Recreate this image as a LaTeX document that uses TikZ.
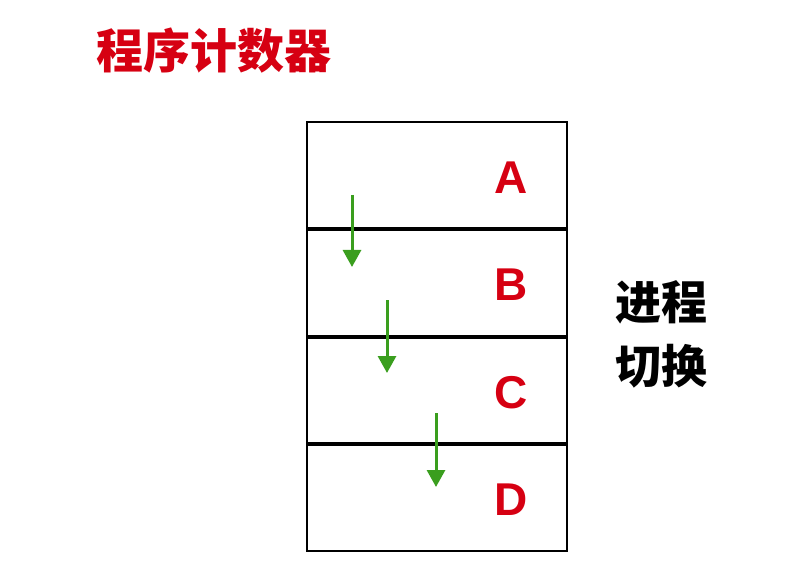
\documentclass[tikz,border=0pt]{standalone}
\usepackage{fontspec}
\usetikzlibrary{arrows.meta}
\setmainfont{Liberation Sans}
\newfontfamily\cjk{Noto Sans CJK SC}
\definecolor{pcred}{RGB}{214,0,18}
\definecolor{pcgreen}{RGB}{58,158,30}
\begin{document}
\begin{tikzpicture}[x=1pt,y=-1pt,
  letter/.style={text=pcred,font=\fontsize{46}{46}\selectfont\bfseries},
  hop/.style={->,>={Triangle[width=18pt,length=17pt]},draw=pcgreen,line width=3pt}]
\useasboundingbox (0,0) rectangle (798,580);

\node[anchor=west,text=pcred,font=\cjk\fontsize{47}{47}\selectfont\bfseries] (title) at (93,51) {程序计数器};

% the stack of frames
\draw[line width=1.6pt] (307,122) rectangle (567,551);
\foreach \y in {229,337,444}
  \draw[line width=3.5pt] (307,\y) -- (567,\y);

\node[letter] (A) at (511,178) {A};
\node[letter] (B) at (511,285) {B};
\node[letter] (C) at (511,393) {C};
\node[letter] (D) at (511,500) {D};

\coordinate (s1) at (352,195); \coordinate (e1) at (352,267);
\coordinate (s2) at (387,300); \coordinate (e2) at (387,373);
\coordinate (s3) at (436,413); \coordinate (e3) at (436,487);
\draw[hop] (s1) -- (e1);
\draw[hop] (s2) -- (e2);
\draw[hop] (s3) -- (e3);

\node[font=\cjk\fontsize{46}{46}\selectfont\bfseries,align=center] (switch) at (661,334) {进程\\[18pt]切换};
\end{tikzpicture}
\end{document}
